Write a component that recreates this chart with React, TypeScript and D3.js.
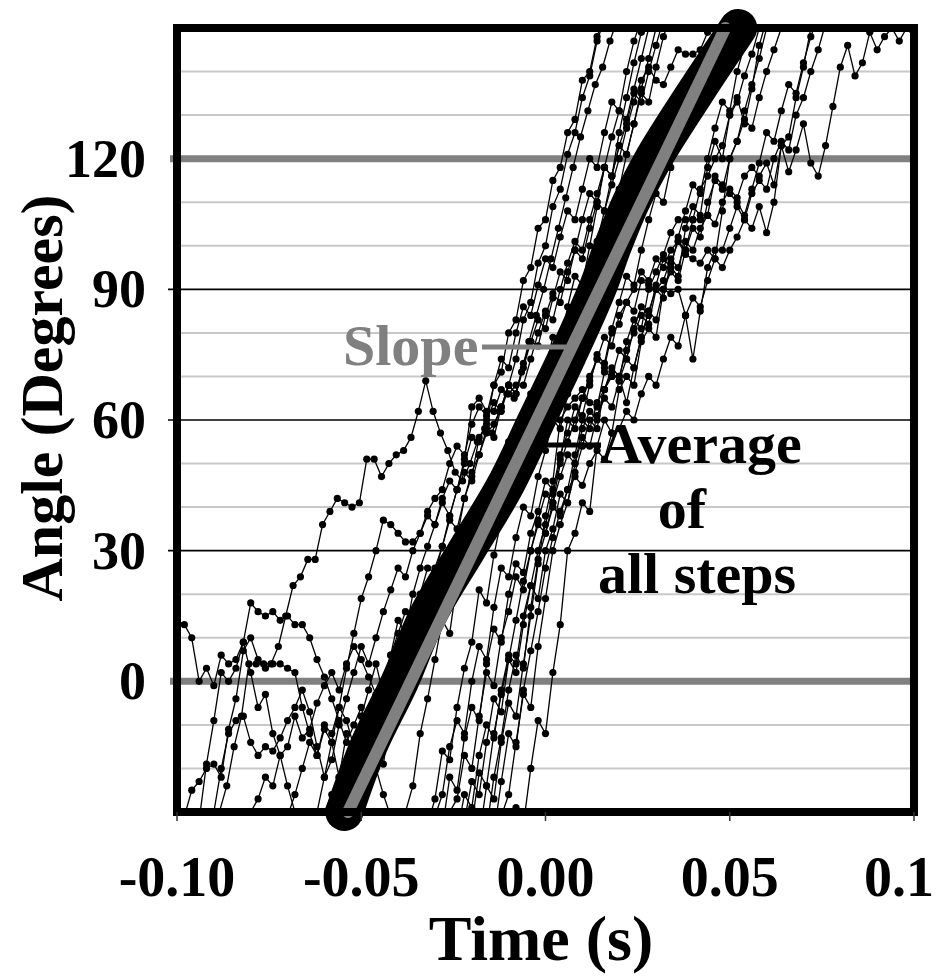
import React from "react";
import * as d3 from "d3";

// ---------- data ----------
const SAMPLE_INTERVAL = 0.002; // s between samples of each step trace

const xTickValues = [-0.1, -0.05, 0, 0.05, 0.1];
const xTickLabels = ["-0.10", "-0.05", "0.00", "0.05", "0.1"];
const yTickValues = [0, 30, 60, 90, 120];
const yTickLabels = ["0", "30", "60", "90", "120"];
const yMinorGrid = [-20, -10, 10, 20, 40, 50, 70, 80, 100, 110, 130, 140];
const yMajorGrid = [30, 60, 90];
const yReferenceLines = [0, 120];

// start time (s) of each recorded step trace
const traceStarts = [
  -0.1, -0.098, -0.094, -0.09, -0.0885, -0.08, -0.07, -0.062, -0.06, -0.05,
  -0.04, -0.034, -0.032, -0.03, -0.028, -0.026, -0.024, -0.022, -0.02, -0.018,
  -0.016, -0.014, -0.01,
];

const trace01 = [14, 13, 10, 0, 3, -1, 6, 4, 5, 9, 2, -6, -3, -12, -17, -24, -30, -34];
const trace02 = [-31, -25, -23, -20, -19, -22, -11, -4, 7, 10, 5, 3, 4, 4, 3, 2, -6, -12, -17, -11, -14, -22, -27, -33];
const trace03 = [-32, -19, -9, 2, 0, 3, 9, 18, 16, 15, 16, 14, 15, 13, 13, 10, 5, 1, -4, -9, -14, -10, -6, -12, -20, -26, -31];
const trace04 = [-30, -20, -12, -9, -8, -14, -17, -15, -16, -13, -9, -6, -2, -7, -15, -22, -18, -10, -4, 2, 8, 4, 10, 16, 21, 26, 24, 30, 34, 38, 36, 42, 46, 44, 50, 56, 55, 60, 64, 62, 68, 74, 83, 87, 96, 100, 109, 113, 121, 126, 134, 139, 147, 152];
const trace05 = [-30, -24, -15, -8, 4, 4, 4, 4, 8, 15, 22, 24, 28, 28, 36, 39, 42, 41, 40, 41, 51, 51, 47, 50, 52, 53, 56, 62, 69, 62, 57, 53, 48, 46, 50, 55, 58, 57, 62, 66, 65, 71, 78, 84, 90, 97, 104, 111, 118, 125, 131, 137, 141, 147, 152];
const trace06 = [-30, -27, -22, -24, -17, -15, -8, -13, -11, -5, -1, 2, -2, 4, 8, 5, 1, -3, 0, 6, 11, 16, 14, 20, 26, 25, 31, 37, 35, 42, 48, 52, 58, 56, 63, 68, 66, 73, 78, 77, 84, 89, 87, 94, 99, 97, 104, 110, 108, 116, 123, 121, 128, 135, 133, 141, 148, 153];
const trace07 = [-31, -26, -20, -14, -17, -10, -12, -6, -9, -15, -19, -13, -8, -2, 3, -1, 5, 2, 9, 15, 13, 20, 27, 33, 42, 47, 56, 59, 68, 71, 80, 83, 92, 95, 104, 106, 115, 118, 126, 129, 138, 140, 148, 153];
const trace08 = [-30, -22, -14, -6, 3, 11, 19, 24, 30, 37, 36, 34, 32, 32, 34, 39, 42, 44, 50, 54, 52, 59, 63, 61, 68, 74, 72, 80, 86, 84, 91, 97, 95, 102, 108, 106, 113, 120, 118, 126, 133, 131, 140, 147, 152];
const trace09 = [-30, -26, -22, -12, -18, -8, -2, 4, -3, 6, 14, 11, 20, 26, 31, 36, 41, 38, 44, 48, 46, 52, 57, 59, 63, 68, 66, 72, 78, 83, 81, 88, 94, 92, 99, 106, 112, 110, 118, 125, 131, 129, 136, 143, 150, 155];
const trace10 = [-30, -24, -16, -19, -8, -3, 4, 12, 10, 19, 26, 31, 38, 44, 51, 63, 65, 62, 62, 67, 66, 68, 68, 74, 80, 85, 83, 90, 96, 101, 99, 106, 112, 118, 116, 123, 128, 135, 133, 140, 146, 152];
const trace11 = [-40, -30, -24, -12, -4, 5, 14, 11, 23, 30, 28, 36, 43, 41, 50, 55, 53, 61, 66, 64, 72, 79, 77, 86, 93, 91, 100, 109, 118, 116, 126, 134, 142, 149, 155];
const trace12 = [-41, -33, -27, -16, -18, -6, 3, 9, 21, 18, 29, 37, 44, 49, 47, 56, 63, 61, 69, 76, 74, 83, 89, 95, 101, 108, 114, 120, 127, 133, 138, 141, 138, 137, 141, 145, 144, 144, 145, 149, 155];
const trace13 = [-38, -31, -26, -15, -9, -12, 0, 8, 5, 17, 26, 24, 33, 40, 38, 47, 53, 60, 58, 66, 73, 79, 85, 92, 99, 106, 113, 121, 128, 136, 143, 150, 156];
const trace14 = [-40, -34, -22, -25, -13, -6, -9, 4, 12, 9, 20, 27, 25, 34, 39, 46, 44, 52, 57, 63, 61, 68, 75, 73, 81, 87, 93, 91, 99, 106, 112, 110, 118, 124, 131, 129, 137, 144, 150, 155];
const trace15 = [-40, -30, -27, -17, -20, -8, 2, -1, 10, 16, 24, 21, 30, 36, 34, 41, 47, 52, 50, 58, 62, 60, 67, 70, 76, 74, 81, 86, 84, 91, 97, 95, 102, 108, 114, 112, 120, 127, 133, 131, 140, 146, 152];
const trace16 = [-40, -35, -26, -29, -17, -10, -13, -2, 6, 4, 15, 22, 19, 30, 35, 43, 41, 50, 56, 54, 61, 65, 63, 69, 74, 72, 79, 85, 83, 90, 94, 92, 99, 104, 102, 110, 115, 113, 120, 124, 129, 127, 134, 140, 145, 150, 154];
const trace17 = [-41, -32, -23, -26, -14, -4, -7, 5, 14, 23, 30, 37, 43, 41, 50, 55, 60, 65, 69, 74, 79, 77, 84, 87, 90, 94, 92, 97, 95, 99, 101, 98, 97, 96, 99, 97, 108, 120, 124, 131, 137, 143, 150, 156];
const trace18 = [-40, -33, -21, -24, -12, -3, 5, 2, 13, 22, 30, 36, 43, 51, 60, 58, 65, 70, 74, 72, 80, 82, 87, 85, 92, 91, 90, 90, 89, 90, 84, 74, 85, 95, 99, 99, 104, 109, 106, 112, 115, 113, 120, 124, 122, 130, 134, 140, 145, 151];
const trace19 = [-41, -36, -24, -27, -14, -5, -8, 4, 15, 27, 38, 46, 60, 63, 65, 67, 64, 63, 71, 70, 70, 64, 72, 79, 85, 90, 88, 96, 101, 99, 106, 113, 116, 120, 123, 130, 133, 139, 144, 150, 155];
const trace20 = [-40, -34, -22, -13, -2, 6, 3, 17, 28, 34, 40, 38, 44, 47, 45, 50, 53, 51, 57, 58, 62, 60, 66, 70, 68, 74, 79, 77, 84, 88, 86, 92, 97, 95, 99, 102, 106, 104, 109, 103, 110, 123, 117, 122, 128, 119, 116, 123, 132, 141, 146, 139, 142, 149, 145, 148, 150, 147, 150, 148];
const trace21 = [-41, -35, -23, -12, -15, -2, 7, 16, 26, 33, 39, 44, 52, 60, 58, 64, 67, 72, 70, 76, 80, 84, 82, 90, 92, 97, 95, 101, 99, 104, 107, 105, 110, 113, 111, 116, 118, 116, 119, 114, 123, 125, 134, 141, 150, 155];
const trace22 = [-40, -31, -26, -14, -3, -6, 8, 19, 30, 36, 41, 48, 54, 60, 58, 67, 71, 69, 78, 83, 81, 90, 94, 98, 103, 106, 106, 106, 106, 107, 116, 114, 112, 110, 107, 113, 119, 126, 124, 131, 137, 135, 142, 148, 153];
const trace23 = [-40, -29, -33, -20, -9, -12, 2, 13, 30, 34, 41, 39, 54, 60, 57, 67, 70, 68, 78, 81, 79, 90, 95, 93, 104, 109, 107, 118, 124, 120, 130, 134, 128, 136, 146, 152];

const traceValues = [
  trace01, trace02, trace03, trace04, trace05, trace06, trace07, trace08, trace09, trace10,
  trace11, trace12, trace13, trace14, trace15, trace16, trace17, trace18, trace19, trace20,
  trace21, trace22, trace23,
];

// average of all steps
const averageTime = [-0.0546, -0.0481, -0.0395, -0.032, -0.0215, -0.0109, -0.0024, 0.0061, 0.014, 0.0183, 0.0232, 0.0293, 0.0405, 0.0523];
const averageAngle = [-30, -15, 0, 15, 30, 45, 60, 75, 90, 100, 110, 120, 135, 150];

// fitted slope
const slopeTime = [-0.0536, 0.0488];
const slopeAngle = [-30, 150];

// ---------- layout ----------
const W = 936;
const H = 976;
const PL = 177;
const PR = 914;
const PT = 28;
const PB = 812;
const FONT = "'Liberation Serif', 'Times New Roman', serif";

export default function App() {
  const x = d3.scaleLinear().domain([-0.1, 0.1]).range([PL, PR]);
  const y = d3.scaleLinear().domain([-30, 150]).range([PB, PT]);
  const line = d3
    .line<[number, number]>()
    .x((d) => x(d[0]))
    .y((d) => y(d[1]));

  const traces = traceValues.map((vals, k) =>
    vals.map((v, i) => [traceStarts[k] + i * SAMPLE_INTERVAL, v] as [number, number])
  );
  const avgPts = averageTime.map((t, i) => [t, averageAngle[i]] as [number, number]);
  const slopePts = slopeTime.map((t, i) => [t, slopeAngle[i]] as [number, number]);

  return (
    <svg
      width={W}
      height={H}
      style={{ position: "absolute", left: 0, top: 0, background: "#fff" }}
    >
      <defs>
        <clipPath id="plotClip">
          <rect x={PL} y={PT} width={PR - PL} height={PB - PT} />
        </clipPath>
      </defs>
      <rect x={0} y={0} width={W} height={H} fill="#fff" />

      {yMinorGrid.map((v) => (
        <line key={"mn" + v} x1={PL} x2={PR} y1={y(v)} y2={y(v)} stroke="#c8c8c8" strokeWidth={2} />
      ))}
      {yMajorGrid.map((v) => (
        <line key={"mj" + v} x1={PL - 9} x2={PR} y1={y(v)} y2={y(v)} stroke="#000" strokeWidth={1.6} />
      ))}
      {yReferenceLines.map((v) => (
        <line key={"rf" + v} x1={PL - 7} x2={PR + 4} y1={y(v)} y2={y(v)} stroke="#808080" strokeWidth={7} />
      ))}

      <g clipPath="url(#plotClip)">
        {traces.map((pts, k) => (
          <g key={"tr" + k}>
            <path d={line(pts) || ""} fill="none" stroke="#000" strokeWidth={1.3} />
            {pts.map((p, i) => (
              <circle key={i} cx={x(p[0])} cy={y(p[1])} r={3.6} fill="#000" />
            ))}
          </g>
        ))}
      </g>

      <path
        d={line.curve(d3.curveCatmullRom)(avgPts) || ""}
        fill="none"
        stroke="#000"
        strokeWidth={38}
        strokeLinecap="round"
        strokeLinejoin="round"
      />
      <path
        d={line.curve(d3.curveLinear)(slopePts) || ""}
        fill="none"
        stroke="#808080"
        strokeWidth={12}
        strokeLinecap="round"
      />

      <rect x={PL} y={PT} width={PR - PL} height={PB - PT} fill="none" stroke="#000" strokeWidth={8} />

      {xTickValues.map((v) => (
        <line key={"xt" + v} x1={x(v)} x2={x(v)} y1={PB} y2={PB + 9} stroke="#333" strokeWidth={1.5} />
      ))}
      {xTickValues.map((v, i) => {
        const last = i === xTickValues.length - 1;
        return (
          <text
            key={"xl" + v}
            x={last ? x(v) - 50 : x(v)}
            y={896}
            textAnchor={last ? "start" : "middle"}
            fontFamily={FONT}
            fontWeight="bold"
            fontSize={56}
            fill="#000"
          >
            {xTickLabels[i]}
          </text>
        );
      })}
      {yTickValues.map((v, i) => (
        <text
          key={"yl" + v}
          x={146}
          y={y(v) + 18}
          textAnchor="end"
          fontFamily={FONT}
          fontWeight="bold"
          fontSize={54}
          fill="#000"
        >
          {yTickLabels[i]}
        </text>
      ))}

      <text x={541} y={960} textAnchor="middle" fontFamily={FONT} fontWeight="bold" fontSize={64} fill="#000">
        Time (s)
      </text>
      <text
        transform="translate(62,398) rotate(-90)"
        textAnchor="middle"
        fontFamily={FONT}
        fontWeight="bold"
        fontSize={60}
        fill="#000"
      >
        Angle (Degrees)
      </text>

      <line x1={482} x2={566} y1={347} y2={347} stroke="#808080" strokeWidth={5} />
      <text x={343} y={365} fontFamily={FONT} fontWeight="bold" fontSize={58} fill="#808080">
        Slope
      </text>
      <line x1={545} x2={601} y1={445} y2={445} stroke="#000" strokeWidth={5} />
      <text x={600} y={463} fontFamily={FONT} fontWeight="bold" fontSize={58} fill="#000">
        Average
      </text>
      <text x={682} y={528} textAnchor="middle" fontFamily={FONT} fontWeight="bold" fontSize={58} fill="#000">
        of
      </text>
      <text x={598} y={593} fontFamily={FONT} fontWeight="bold" fontSize={58} fill="#000">
        all steps
      </text>
    </svg>
  );
}
